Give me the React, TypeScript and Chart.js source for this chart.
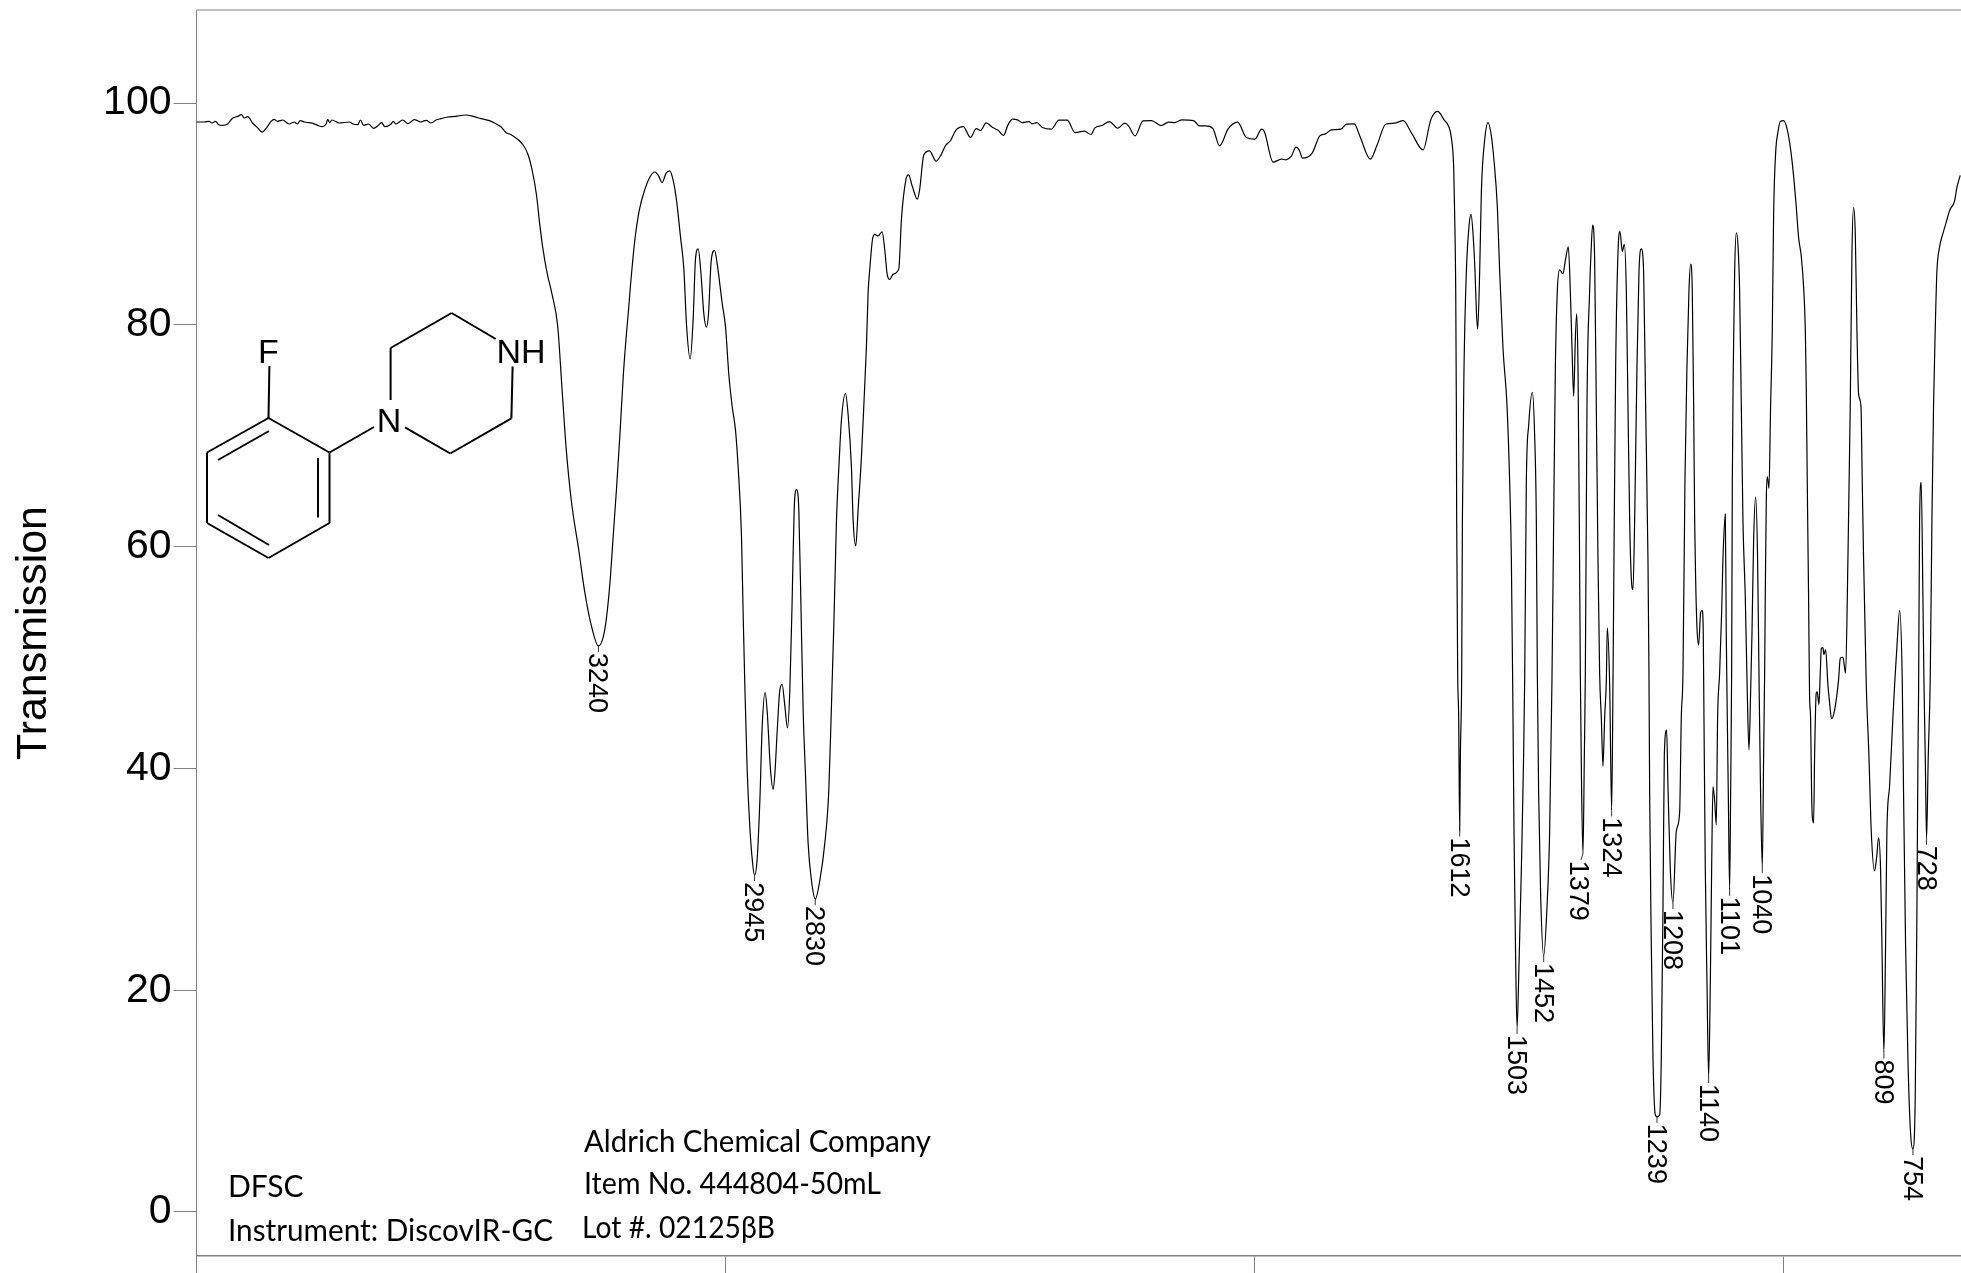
import React, { useEffect, useRef } from "react";
import { Chart, registerables } from "chart.js";

Chart.register(...registerables);

const wavenumbers = [
  4000,3985,3976,3971,3964,3958,3951,3941,3933,3922,3915,3910,3903,3894,3884,3876,3867,3859,3853,3847,3837,3825,3815,3809,3804,3796,3780,3771,3762,3755,3752,3748,3744,3730,3711,3704,3695,3690,3684,3675,3665,3658,3650,3644,3632,3628,3623,3610,3600,3588,3576,3566,3556,3547,3538,3525,3510,3491,3475,3462,3446,3434,3424,3415,3405,3383,3373,3365,3357,3351,3345,3337,3328,3317,3309,3301,3291,3277,3266,3254,
  3240,3227.8,3218.4,3212.1,3205.8,3199.5,3193.2,3188.1,3183.7,3179.3,3171.1,3162.9,3152.2,3142.8,3133.3,3127,3119.5,3112.5,3105,3098.7,3092.4,3084.8,3078.5,3073.5,3066.5,3060.9,3056.4,3051.4,3046.4,3040.7,3035.7,3031.9,3026.8,3020.5,3015.5,3006,2999.7,2993.4,2987.1,2980.8,2975.8,2969.5,2966.3,2963.2,2958.8,2953.7,2948.7,2945,2939.9,2934.8,2930.4,2924.8,2921,2914.7,2909.6,2906.5,2902.1,2897,2892.6,2887.6,2882.5,2878.1,2873.7,2869.9,2865.5,2861.1,2856.7,2852.9,2848.5,2843.5,2837.2,2830,2821.4,2812,2804.4,2799.4,2795,2792.4,2789.9,2784.9,2780.5,2772.9,2767.9,2761.6,2758.4,2753.4,2749,2742.7,2737.6,2733.2,2730.1,2726.9,2721.9,2717.5,2711.2,2703.6,2698.5,2694.1,2689.1,2682.8,2672.1,2667,2658.7,2653.6,2646.4,2637,2632.7,2624.7,
  2613.9,2601.6,2592.2,2583.5,2574.1,2564.7,2550.2,2536.5,2525.6,2517.6,2506.8,2494.5,2483.6,2474.2,2465.6,2456.9,2447.5,2438.8,2425.8,2420,2411.3,2400.4,2383.8,2369.3,2353.4,2339,2320.9,2308.6,2301.3,2288.3,2273.9,2257.9,2244.9,2237.7,2225.4,2210.2,2194.3,2176.2,2161.7,2150.9,2136.4,2114.7,2103.8,2093,2078.5,2065.5,2049.6,2031.5,2014.9,1999,1985.9,1980.9,1964.2,1948.3,1939.7,1930.2,1920.8,1915.1,1908.5,1890.4,1876,1865.1,1854.3,1836.2,1825.4,1810.9,1800,1780.5,1767.5,1751.5,1734.9,1718.3,1702.4,1680.7,1666.2,1653.2,1640.9,1632.2,
  1627.2,1622.8,1621,1619,1617.8,1617.2,1615.3,1613.4,1611.5,1610.2,1607.7,1606.4,1603.3,1598.9,1593.8,1590.1,1586.3,1582.5,1580,1577.5,1573.7,1570.5,1564.2,1557.9,1551.6,1546.6,1540.3,1535.9,1529.6,1522,1517,1513.8,1510.7,1508.8,1505.6,1503,1499.3,1494.9,1488.6,1485.5,1481,1474.1,1469.7,1466.6,1464.7,1462.2,1458.4,1452.7,1446.4,1441.4,1437,1433.8,1430.6,1426.9,1422.5,1416.2,1411.7,1406.1,1402.3,1399.1,1396,1392.9,1390.3,1387.8,1385.3,1383.4,1380.9,1378.4,1375.8,1373.9,1370.8,1365.8,1363.2,1360.1,1356.3,1353.2,1350,1346.9,1343.7,1340.6,1337.4,1334.2,1332.4,1327.9,1324.2,1321.6,1319.8,1316.6,1312.2,1308.4,1304,1300.2,1296.4,1293.3,1290.1,1287,1283.8,1280.7,1276.3,1272.5,1268.1,1263.7,1259.9,1255.5,1253.6,1252.3,1249.2,1246,1241.6,1238.5,1233.4,1230.3,1227.1,1224.6,1220.2,1217.7,1213.3,1208.2,1201.9,1195.6,1192.5,1189.3,1185.6,1181.8,1178,1174.8,
  1171.7,1169.1,1167.2,1165.4,1162.8,1159.7,1155.9,1152.8,1150.9,1149.6,1147.1,1143.9,1140.8,1137.6,1135.1,1132.6,1129.4,1126.3,1123.8,1120,1116.2,1113.7,1109.3,1107.4,1105.5,1103.6,1101.1,1099.2,1097.3,1096,1094.2,1091.6,1088.5,1085.3,1082.2,1079,1075.9,1071.5,1067.7,1064.5,1061.4,1058.9,1055.7,1051.9,1048.2,1045.6,1043.1,1039.3,1036.8,1034.9,1033.7,1031.8,1029.9,1026.7,1023.6,1020.4,1017.9,1014.1,1009.7,1005.3,999,992.7,985.8,980.1,975.1,970.7,965.6,961.2,958,956.2,954.3,951.8,949.9,948,946.1,944.8,942.3,940.4,937.3,935.4,932.2,929.7,927.8,924.7,922.8,919.6,915.2,912.1,908.3,902.6,895.1,891.9,886.9,881.8,877.4,873,869.8,866.7,863.5,860.4,857.2,852.8,850.3,847.8,842.7,837.7,833.3,827,823.2,819.4,815.7,813.1,809.4,806.2,803.7,798.6,792.4,788.6,784.8,779.7,774.7,772.2,768.4,764,758.9,754.5,750.1,746.9,745,743.8,741.9,738.8,735.6,733.7,731.2,728.7,725.5,721.8,718.6,715.5,712.3,709.2,704.1,697.8,691.5,685.2,675.8,671.4,665.1,
];

const transmission = [
  98.3,98.3,98.36,98.21,98.36,98.06,98,98.12,98.6,98.81,98.96,98.66,98.78,98.21,97.76,97.39,97.82,98.36,98.54,98.36,98.48,98.12,98.3,98.12,98.42,98.3,98.18,98,97.88,98.12,98.54,98.24,98.48,98.21,98.3,98.12,98.06,98.48,98,98.12,97.73,97.91,98.24,97.88,98.12,98.36,98.12,98.48,98.15,98.51,98.3,98.45,98.21,98.48,98.6,98.75,98.81,98.93,98.78,98.6,98.42,98.15,97.85,97.36,97.15,96.27,95.35,93.88,91.67,89.09,86.88,84.67,82.83,79.88,74.36,68.84,64.05,59.63,55.95,53,
  51.05,52.58,56.64,60.94,65.24,70.01,75.26,78.61,81,83.62,87.68,90.31,92.22,93.32,93.79,93.51,92.84,93.65,93.89,93.03,91.26,87.92,85.05,80.04,76.94,80.52,86.01,86.87,84.82,81,79.8,81,85.77,86.73,85.53,81.95,79.8,75.5,72.64,70.49,67.15,60.94,53.78,47.57,39.93,34.67,31.57,30.37,31.81,37.06,43.75,46.85,45.18,39.93,38.11,39.45,43.27,47.09,47.57,45.66,43.65,47.09,55.21,63.33,65.14,63.33,53.78,45.18,39.45,33.24,29.9,28.22,29.9,33.24,38.02,45.66,52.82,57.6,62.37,67.62,71.44,73.83,71.92,67.15,62.37,60.08,63.33,68.1,73.36,78.13,82.91,85.05,87.68,88.16,88.02,88.4,86.73,84.58,84.1,84.58,85.05,89.59,93.08,93.53,92.48,91.34,92.18,95.34,
  95.7,94.77,95.34,96.18,96.63,97.53,97.89,96.9,97.71,97.53,98.22,97.8,97.53,97.08,98.04,98.55,98.49,98.25,98.34,98.13,98.25,97.8,97.65,98.46,98.46,97.35,97.47,97.17,97.77,97.98,98.34,97.74,98.19,97.95,97.05,98.4,98.43,97.98,98.28,98.25,98.49,98.43,97.95,97.95,97.74,96.15,97.65,98.28,96.9,96.75,97.65,97.44,94.68,94.95,94.89,95.19,96.03,95.79,95.04,95.49,97.05,97.23,97.59,97.65,98.1,98.13,96.99,94.95,96.24,98.1,98.19,98.43,97.29,95.79,98.49,99.25,98.49,97.89,
  96.87,94.1,89.96,83.06,72.7,62.35,48.6,44.58,34.4,41.2,48.6,62.35,76.16,84.79,88.93,89.96,88.24,84.79,81.34,79.61,84.79,92.04,96.7,98.25,97.04,94.8,90.65,84.79,77.88,72.7,65.8,58.9,44.58,34.34,22.4,16.6,22.4,30.93,47.99,65.8,70.98,73.91,69.94,62.35,48.6,37.75,28.54,23.08,27.52,34.34,47.99,62.35,76.16,83.06,84.96,84.61,85.82,87.03,83.06,77.88,73.57,78.57,81,76.16,62.35,48.6,37.75,32.3,41.17,48.6,72.7,83.06,86.5,89,85.82,72.7,58.9,48.6,44.58,40.2,44.58,47.99,52.68,47.5,36.22,47.99,58.9,76.16,86.51,88.41,86.62,87.27,83.06,72.7,62.35,57.17,56.14,62.35,76.16,84.79,86.86,84.79,72.7,58.9,48.6,37.75,24.1,13.87,8.75,8.58,8.75,13.87,27.52,41.17,43.45,38.44,30.93,27.86,34.34,36.05,44.58,48.6,65.8,76.16,83.06,85.48,
  83.06,72.7,62.35,57.17,52.68,51.13,54.07,54.24,52,44.58,30.93,20.7,12.17,20.7,30.93,38.37,37.07,34.92,44.58,48.6,54.07,58.9,62.94,52,44.58,37.75,29.05,37.75,48.6,65.8,76.16,84.79,88.31,87.2,83.06,72.7,62.35,55.45,46.82,41.68,46.82,52,60.62,64.49,58.9,48.6,39.46,31.1,41.17,48.6,55.45,64.08,66.32,65.28,72.7,79.61,89.96,95.49,97.39,98.35,98.42,97.73,95.83,93.42,90.65,87.89,86.17,83.41,79.61,74.43,65.8,55.45,46.47,44.58,37.75,35.71,35.09,41.17,46.8,46.9,45.77,48.6,50.79,50.89,50.27,50.72,47.51,45.94,44.48,45.26,47.99,49.92,50.03,48.6,58.9,72.7,86.51,90.59,88.24,79.61,73.74,72.7,65.8,58.9,47.51,41.17,34.34,30.76,31.95,33.73,30.93,24.11,14.38,24.11,34.34,38.44,44.58,47.99,50.96,54.24,47.99,37.75,24.11,13.87,7.05,5.68,10.46,27.52,41.17,46.82,62.35,65.8,55.45,47.99,41.17,33.66,41.17,47.99,62.35,72.7,79.61,84.79,87.03,88.24,89.27,90.31,91.17,92.38,93.49,
];

const peakLabels = ["3240","2945","2830","1612","1503","1452","1379","1324","1239","1208","1140","1101","1040","809","754","728"];
const peakWavenumbers = [3240,2945,2830,1611.5,1503,1452.7,1378.4,1324.2,1238.5,1208.2,1140.8,1101.1,1039.3,809.4,754.5,728.7];
const peakTransmission = [51.05,30.37,28.22,34.4,16.6,23.08,32.3,36.22,8.58,27.86,12.17,29.05,31.1,14.38,5.68,33.66];

const yTicks = [0, 20, 40, 60, 80, 100];
const xTicks = [4000, 3000, 2000, 1000];
const noteLines = [
  "Aldrich Chemical Company",
  "Item No. 444804-50mL",
  "Lot #. 02125βB",
  "DFSC",
  "Instrument: DiscovIR-GC",
];
const AXIS = "#808080";
const SANS = '"Liberation Sans", Arial, sans-serif';

const annotations = {
  id: "annotations",
  afterDraw(chart: any) {
    const { ctx, chartArea, scales } = chart;
    ctx.save();
    // top frame line
    ctx.strokeStyle = AXIS;
    ctx.lineWidth = 1;
    ctx.beginPath();
    ctx.moveTo(chartArea.left, chartArea.top);
    ctx.lineTo(chartArea.right, chartArea.top);
    ctx.stroke();

    // peak markers and rotated peak labels
    ctx.fillStyle = "#000";
    ctx.strokeStyle = "#333";
    ctx.font = `27px ${SANS}`;
    peakLabels.forEach((label, i) => {
      const x = scales.x.getPixelForValue(peakWavenumbers[i]);
      const y = scales.y.getPixelForValue(peakTransmission[i]);
      const shift = label === "1379" ? -4 : 0;
      ctx.beginPath();
      ctx.moveTo(x, y);
      ctx.lineTo(x + shift / 2, y + 6);
      ctx.stroke();
      ctx.save();
      ctx.translate(x + shift - 1.5, y + 7);
      ctx.rotate(Math.PI / 2);
      ctx.textAlign = "left";
      ctx.textBaseline = "middle";
      ctx.fillText(label, 0, 0);
      ctx.restore();
    });

    // structure drawing
    const bonds = [
      [268.5,418,329.5,452.5],[329.5,452.5,329.5,523],[329.5,523,268.5,558],[268.5,558,207,523],[207,523,207,452.5],[207,452.5,268.5,418],
      [218,460,269,431],[318,458,318,517.5],[218,515,269,545],
      [268.5,418,269.4,366],[329.5,452.5,374,427],
      [390.6,400,390.6,348],[390.6,348,451.6,313],[451.6,313,495.8,339],
      [512.6,366.5,511.4,418.4],[511.4,418.4,450.3,453.5],[450.3,453.5,405,427.3],
    ];
    ctx.strokeStyle = "#000";
    ctx.lineWidth = 2;
    bonds.forEach(([a, b, c, d]) => {
      ctx.beginPath();
      ctx.moveTo(a, b);
      ctx.lineTo(c, d);
      ctx.stroke();
    });
    ctx.font = `34px ${SANS}`;
    ctx.textAlign = "center";
    ctx.textBaseline = "alphabetic";
    ctx.fillText("F", 268.5, 363);
    ctx.fillText("N", 389, 432);
    ctx.fillText("NH", 521, 363);

    // text notes
    ctx.textAlign = "left";
    ctx.font = `30px Lato, sans-serif`;
    const notePos = [
      [584, 1152, 347],
      [584, 1194, 297],
      [582, 1238, 193],
      [228, 1197, 78],
      [228, 1241, 325],
    ];
    noteLines.forEach((t, i) => ctx.fillText(t, notePos[i][0], notePos[i][1], notePos[i][2]));
    ctx.restore();
  },
};

export default function App() {
  const ref = useRef<HTMLCanvasElement | null>(null);
  useEffect(() => {
    if (!ref.current) return;
    const chart = new Chart(ref.current, {
      type: "line",
      data: {
        datasets: [
          {
            data: wavenumbers.map((w, i) => ({ x: w, y: transmission[i] })),
            borderColor: "#000",
            borderWidth: 1.2,
            pointRadius: 0,
            cubicInterpolationMode: "monotone",
            fill: false,
          },
        ],
      },
      options: {
        animation: false,
        responsive: false,
        layout: { autoPadding: false, padding: { top: 10, left: 0, right: 0, bottom: 0 } },
        plugins: { legend: { display: false }, tooltip: { enabled: false }, title: { display: false } },
        scales: {
          x: {
            type: "linear",
            reverse: true,
            min: 663.6,
            max: 4000,
            afterBuildTicks: (s: any) => { s.ticks = xTicks.map((value) => ({ value })); },
            afterFit: (s: any) => { s.height = 17; s.paddingLeft = 0; s.paddingRight = 0; },
            ticks: { display: false },
            grid: { drawOnChartArea: false, drawTicks: true, tickLength: 17, color: AXIS, lineWidth: 1 },
            border: { color: AXIS, width: 1.5 },
          },
          y: {
            type: "linear",
            min: -3.97,
            max: 108.4,
            afterBuildTicks: (s: any) => { s.ticks = yTicks.map((value) => ({ value })); },
            afterFit: (s: any) => { s.width = 196.5; s.paddingTop = 0; s.paddingBottom = 0; },
            ticks: { color: "#000", padding: 2, font: { family: "Liberation Sans", size: 41 }, maxRotation: 0 },
            grid: { drawOnChartArea: false, drawTicks: true, tickLength: 23, color: AXIS, lineWidth: 1 },
            border: { color: AXIS, width: 1 },
            title: {
              display: true,
              text: "Transmission",
              color: "#000",
              padding: { top: 8, bottom: 0 },
              font: { family: "Liberation Sans", size: 43, weight: "normal" },
            },
          },
        },
      },
      plugins: [annotations],
    } as any);
    return () => chart.destroy();
  }, []);
  return (
    <div style={{ position: "fixed", left: 0, top: 0, width: 1961, height: 1273, overflow: "hidden", background: "#fff" }}>
      <canvas ref={ref} width={1961} height={1273} style={{ display: "block" }} />
    </div>
  );
}
